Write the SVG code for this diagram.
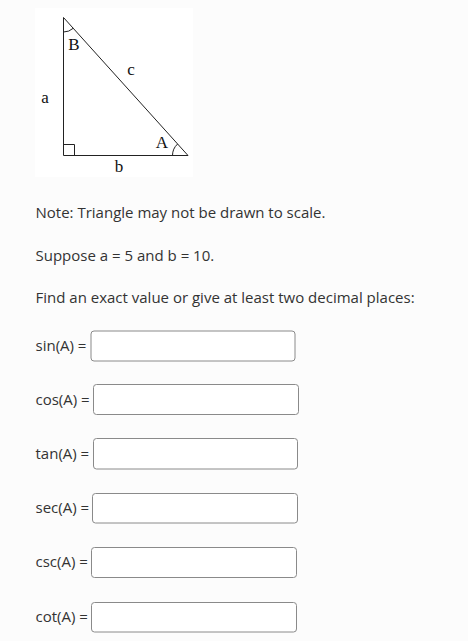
<svg xmlns="http://www.w3.org/2000/svg" width="468" height="641" viewBox="0 0 468 641">
<style>
.t{font-family:"Open Sans","Liberation Sans",sans-serif;font-size:15px;fill:#333}
.l{font-family:"Liberation Serif","Times New Roman",serif;font-size:17px;fill:#111}
.box{fill:#fff;stroke:#8a8a8a;stroke-width:1}
.ln{fill:none;stroke:#222;stroke-width:1}
</style>
<rect width="468" height="641" fill="#fcfcfc"/>
<g id="figure">
<rect x="35" y="8" width="158" height="169" fill="#fff"/>
<path class="ln" d="M63.5 17.5 L63.5 155.5 L188 155.5 Z"/>
<path class="ln" d="M63.5 144.5 L74.5 144.5 L74.5 155.5"/>
<path class="ln" d="M172.5 155.5 A15.5 15.5 0 0 1 177.6 144"/>
<path class="ln" d="M63.5 32 A14.5 14.5 0 0 0 73.2 28.3"/>
<text class="l" x="74" y="50" text-anchor="middle">B</text>
<text class="l" x="131" y="75" text-anchor="middle">c</text>
<text class="l" x="45" y="103" text-anchor="middle">a</text>
<text class="l" x="162" y="148" text-anchor="middle">A</text>
<text class="l" x="119" y="172" text-anchor="middle">b</text>
</g>
<g id="text">
<text class="t" x="35.5" y="218">Note: Triangle may not be drawn to scale.</text>
<text class="t" x="35.5" y="261">Suppose a = 5 and b = 10.</text>
<text class="t" x="35.5" y="303">Find an exact value or give at least two decimal places:</text>
</g>
<g id="sin"><text class="t" x="35.5" y="351">sin(A) =</text><rect class="box" x="91" y="331" width="204" height="30" rx="3"/></g>
<g id="cos"><text class="t" x="35.5" y="405">cos(A) =</text><rect class="box" x="93.5" y="384.5" width="205" height="30" rx="3"/></g>
<g id="tan"><text class="t" x="35.5" y="459">tan(A) =</text><rect class="box" x="93.5" y="438.5" width="204" height="30.5" rx="3"/></g>
<g id="sec"><text class="t" x="35.5" y="513">sec(A) =</text><rect class="box" x="92.5" y="493.5" width="205" height="29.5" rx="3"/></g>
<g id="csc"><text class="t" x="35.5" y="567">csc(A) =</text><rect class="box" x="91.5" y="547.5" width="205" height="30" rx="3"/></g>
<g id="cot"><text class="t" x="35.5" y="622">cot(A) =</text><rect class="box" x="91.5" y="602.5" width="205" height="29.5" rx="3"/></g>
</svg>
